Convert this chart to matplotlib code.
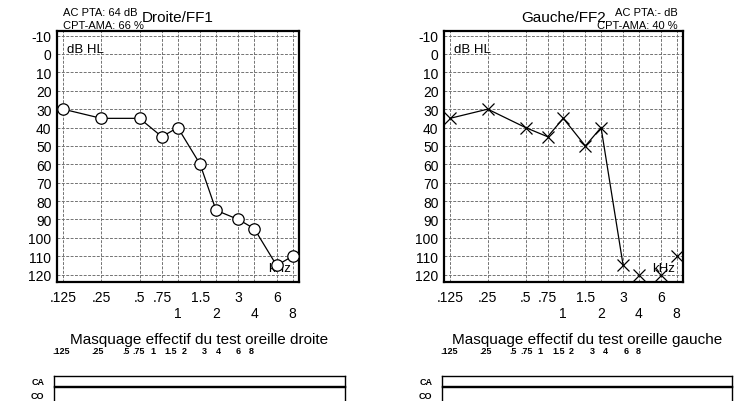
import numpy as np
import matplotlib
matplotlib.use("Agg")
import matplotlib.pyplot as plt
from matplotlib.ticker import FixedLocator, FixedFormatter

plt.rcParams['font.family'] = ['Liberation Sans', 'DejaVu Sans']
plt.rcParams['axes.unicode_minus'] = False

# data
freqs = [0.125, 0.25, 0.5, 0.75, 1, 1.5, 2, 3, 4, 6, 8]
right_db = [30, 35, 35, 45, 40, 60, 85, 90, 95, 115, 110]
left_db = [35, 30, 40, 45, 35, 50, 40, 115, 120, 120, 110]
left_connected = 8  # points joined by a line (no response above 3 kHz)

top_ticks = [0.125, 0.25, 0.5, 0.75, 1.5, 3, 6]
top_labels = ['.125', '.25', '.5', '.75', '1.5', '3', '6']
low_ticks = [1, 2, 4, 8]
low_labels = ['1', '2', '4', '8']
db_ticks = list(range(-10, 130, 10))

mask_labels = ['.125', '.25', '.5', '.75', '1', '1.5', '2', '3', '4', '6', '8']
mask_pos = [0.025, 0.150, 0.246, 0.291, 0.339, 0.402, 0.447, 0.518, 0.563, 0.634, 0.678]

W, H = 738, 402
fig = plt.figure(figsize=(W / 100, H / 100), dpi=100)


def box(x0, y0, x1, y1):
    # pixel box -> figure fraction
    return [x0 / W, 1 - y1 / H, (x1 - x0) / W, (y1 - y0) / H]


def audiogram(ax):
    ax.set_xscale('log')
    ax.set_xlim(0.112, 9.0)
    ax.set_ylim(124, -12.5)
    ax.xaxis.set_major_locator(FixedLocator(top_ticks))
    ax.xaxis.set_major_formatter(FixedFormatter(top_labels))
    ax.xaxis.set_minor_locator(FixedLocator(low_ticks))
    ax.xaxis.set_minor_formatter(FixedFormatter(low_labels))
    ax.set_yticks(db_ticks)
    ax.tick_params(axis='x', which='major', length=0, pad=6, labelsize=10)
    ax.tick_params(axis='x', which='minor', length=0, pad=17, labelsize=10)
    ax.tick_params(axis='y', length=0, pad=4, labelsize=10)
    for f in freqs:
        ax.axvline(f, color='0.45', lw=0.7, ls=(0, (3, 1.5)), zorder=1)
    for d in db_ticks:
        ax.axhline(d, color='0.45', lw=0.7, ls=(0, (3, 1.5)), zorder=1)
    for s in ax.spines.values():
        s.set_linewidth(1.6)
    ax.text(0.04, 0.928, 'dB HL', transform=ax.transAxes, fontsize=9.5,
            va='center', ha='left')
    ax.text(0.965, 0.056, 'kHz', transform=ax.transAxes, fontsize=9.5,
            va='center', ha='right')


# right ear (Droite)
ax1 = fig.add_axes(box(57, 32, 299, 283))
audiogram(ax1)
ax1.plot(freqs, right_db, color='black', lw=0.9, marker='o', ms=8.2,
         mfc='white', mec='black', mew=0.9, zorder=3)
ax1.set_title('Droite/FF1', fontsize=11, pad=7)
fig.text(63 / W, 1 - 13 / H, 'AC PTA: 64 dB', fontsize=8, va='center')
fig.text(63 / W, 1 - 26 / H, 'CPT-AMA: 66 %', fontsize=8, va='center')

# left ear (Gauche)
ax2 = fig.add_axes(box(444, 32, 683, 283))
audiogram(ax2)
ax2.plot(freqs[:left_connected], left_db[:left_connected], color='black', lw=0.9, zorder=2)
ax2.plot(freqs, left_db, ls='none', marker='x', ms=9, mec='black', mew=0.9, zorder=3)
ax2.set_title('Gauche/FF2', fontsize=11, pad=7)
fig.text(678 / W, 1 - 13 / H, 'AC PTA:- dB', fontsize=8, va='center', ha='right')
fig.text(678 / W, 1 - 26 / H, 'CPT-AMA: 40 %', fontsize=8, va='center', ha='right')


def masking(x0, x1, title):
    fig.text((x0 + x1) / 2 / W, 1 - 340 / H, title, fontsize=11,
             ha='center', va='center')
    ca = fig.add_axes(box(x0, 377, x1, 387))
    ca.set_xlim(0, 1)
    ca.set_ylim(0, 1)
    ca.xaxis.tick_top()
    ca.set_xticks(mask_pos)
    ca.set_xticklabels(mask_labels, fontsize=6.5, fontweight='bold')
    ca.set_yticks([0.5])
    ca.set_yticklabels(['CA'], fontsize=6.5, fontweight='bold')
    ca.tick_params(length=0, axis='x', pad=15)
    ca.tick_params(length=0, axis='y', pad=7)
    co = fig.add_axes(box(x0, 388, x1, 410))
    co.set_xlim(0, 1)
    co.set_ylim(0, 1)
    co.set_xticks([])
    co.set_yticks([0.68])
    co.set_yticklabels(['CO'], fontsize=6.5, fontweight='bold')
    co.tick_params(length=0, axis='y', pad=7)
    for a in (ca, co):
        for s in a.spines.values():
            s.set_linewidth(1.0)


masking(54, 345, 'Masquage effectif du test oreille droite')
masking(442, 732, 'Masquage effectif du test oreille gauche')

fig.savefig('out.png', dpi=100)
